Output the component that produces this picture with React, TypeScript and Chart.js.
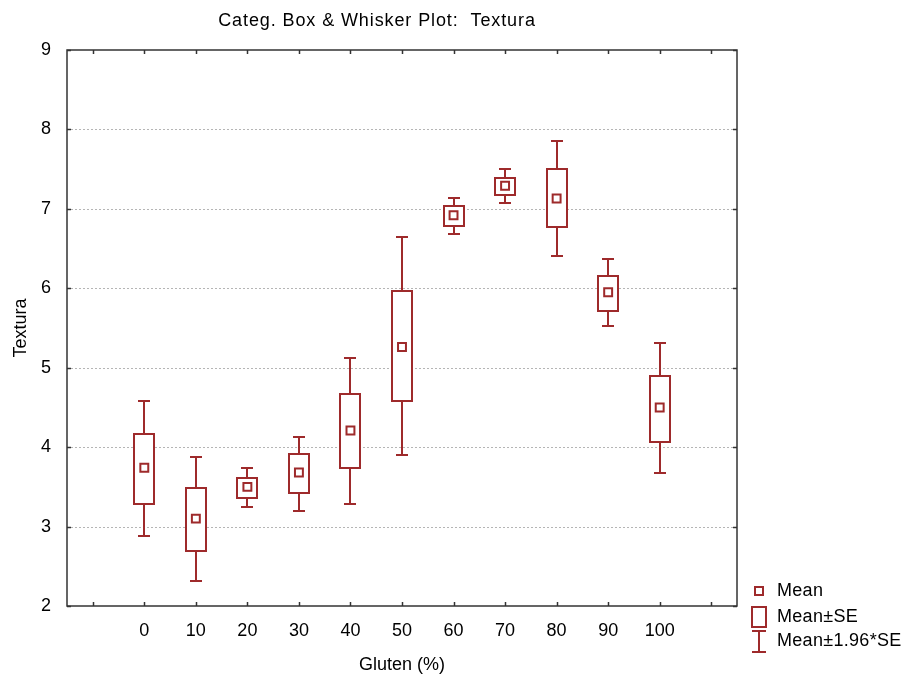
import React, { useEffect, useRef } from 'react';
import { Chart, registerables } from 'chart.js';

Chart.register(...registerables);

// ---- Data ----
const categories = [0, 10, 20, 30, 40, 50, 60, 70, 80, 90, 100];
const means = [3.74, 3.10, 3.50, 3.68, 4.21, 5.26, 6.92, 7.29, 7.13, 5.95, 4.50];
const seLow = [3.29, 2.69, 3.36, 3.42, 3.74, 4.58, 6.79, 7.18, 6.77, 5.72, 4.07];
const seHigh = [4.17, 3.49, 3.61, 3.91, 4.67, 5.97, 7.03, 7.39, 7.50, 6.16, 4.90];
const ciLow = [2.88, 2.32, 3.25, 3.19, 3.29, 3.90, 6.68, 7.07, 6.41, 5.52, 3.68];
const ciHigh = [4.58, 3.87, 3.74, 4.13, 5.12, 6.65, 7.14, 7.50, 7.85, 6.37, 5.31];
const xTickValues = [-10, 0, 10, 20, 30, 40, 50, 60, 70, 80, 90, 100, 110];
const yTickValues = [2, 3, 4, 5, 6, 7, 8, 9];

const TITLE = 'Categ. Box & Whisker Plot:  Textura';
const X_TITLE = 'Gluten (%)';
const Y_TITLE = 'Textura';
const LEGEND_LABELS = ['Mean', 'Mean\u00B1SE', 'Mean\u00B11.96*SE'];

const RED = '#9e2a2b';
const FONT = 'Arial, "Liberation Sans", sans-serif';
const BOX_HALF = 2; // data units
const CAP_HALF = 1.2; // data units

function line(ctx: CanvasRenderingContext2D, x1: number, y1: number, x2: number, y2: number) {
  ctx.beginPath();
  ctx.moveTo(x1, y1);
  ctx.lineTo(x2, y2);
  ctx.stroke();
}

const boxPlugin = {
  id: 'boxWhisker',
  beforeDatasetsDraw(chart: any) {
    const { ctx, chartArea: ca, scales } = chart;
    const x = scales.x;
    const y = scales.y;
    ctx.save();
    // dotted grid
    ctx.strokeStyle = '#b5b5b5';
    ctx.lineWidth = 1;
    ctx.setLineDash([2, 2]);
    yTickValues.forEach((v) => {
      if (v === y.min || v === y.max) return;
      const py = Math.round(y.getPixelForValue(v)) + 0.5;
      line(ctx, ca.left, py, ca.right, py);
    });
    ctx.setLineDash([]);
    // boxes & whiskers
    ctx.strokeStyle = RED;
    ctx.lineWidth = 2;
    categories.forEach((c, i) => {
      const px = Math.round(x.getPixelForValue(c));
      const bh = Math.round(x.getPixelForValue(c + BOX_HALF) - x.getPixelForValue(c));
      const ch = Math.round(x.getPixelForValue(c + CAP_HALF) - x.getPixelForValue(c));
      const yLo = Math.round(y.getPixelForValue(ciLow[i]));
      const yHi = Math.round(y.getPixelForValue(ciHigh[i]));
      const bLo = Math.round(y.getPixelForValue(seLow[i]));
      const bHi = Math.round(y.getPixelForValue(seHigh[i]));
      line(ctx, px, yHi, px, yLo);
      line(ctx, px - ch, yHi, px + ch, yHi);
      line(ctx, px - ch, yLo, px + ch, yLo);
      ctx.fillStyle = '#ffffff';
      ctx.fillRect(px - bh, bHi, 2 * bh, bLo - bHi);
      ctx.strokeRect(px - bh, bHi, 2 * bh, bLo - bHi);
    });
    ctx.restore();
  },
  afterDraw(chart: any) {
    const { ctx, chartArea: ca, scales } = chart;
    const x = scales.x;
    const y = scales.y;
    ctx.save();
    // frame
    ctx.strokeStyle = '#333333';
    ctx.lineWidth = 1.5;
    ctx.strokeRect(ca.left, ca.top, ca.right - ca.left, ca.bottom - ca.top);
    // inward ticks
    ctx.lineWidth = 1.5;
    const tl = 4;
    xTickValues.forEach((v) => {
      const px = Math.round(x.getPixelForValue(v)) + 0.5;
      line(ctx, px, ca.bottom, px, ca.bottom - tl);
      line(ctx, px, ca.top, px, ca.top + tl);
    });
    yTickValues.forEach((v) => {
      const py = Math.round(y.getPixelForValue(v)) + 0.5;
      line(ctx, ca.left, py, ca.left + tl, py);
      line(ctx, ca.right, py, ca.right - tl, py);
    });
    // title
    ctx.fillStyle = '#000';
    ctx.font = `18px ${FONT}`;
    ctx.textAlign = 'center';
    ctx.textBaseline = 'middle';
    (ctx as any).letterSpacing = '0.9px';
    ctx.fillText(TITLE, 377, 21);
    (ctx as any).letterSpacing = '0px';
    // legend
    const lx = ca.right + 22; // symbol center
    const tx = ca.right + 40;
    ctx.strokeStyle = RED;
    ctx.lineWidth = 2;
    ctx.strokeRect(lx - 4, 587, 8, 8);
    ctx.strokeRect(lx - 7, 607, 14, 20);
    line(ctx, lx, 631, lx, 652);
    line(ctx, lx - 7, 631, lx + 7, 631);
    line(ctx, lx - 7, 652, lx + 7, 652);
    ctx.fillStyle = '#000';
    ctx.textAlign = 'left';
    (ctx as any).letterSpacing = '0.3px';
    ctx.fillText(LEGEND_LABELS[0], tx, 591);
    ctx.fillText(LEGEND_LABELS[1], tx, 617);
    ctx.fillText(LEGEND_LABELS[2], tx, 641);
    (ctx as any).letterSpacing = '0px';
    ctx.restore();
  },
};

export default function App() {
  const ref = useRef<HTMLCanvasElement | null>(null);
  useEffect(() => {
    if (!ref.current) return;
    const chart = new Chart(ref.current, {
      type: 'scatter',
      data: {
        datasets: [
          {
            label: 'Mean',
            data: categories.map((c, i) => ({ x: c, y: means[i] })),
            pointStyle: 'rect',
            pointRadius: 5.6,
            pointHoverRadius: 5.6,
            borderWidth: 2,
            borderColor: RED,
            backgroundColor: '#ffffff',
            showLine: false,
          },
        ],
      },
      options: {
        animation: false,
        responsive: false,
        devicePixelRatio: 1,
        events: [],
        layout: { padding: { top: 50, right: 167, left: 0, bottom: 0 } },
        plugins: {
          legend: { display: false },
          tooltip: { enabled: false },
          title: { display: false },
        },
        scales: {
          x: {
            type: 'linear',
            position: 'bottom',
            min: -15,
            max: 115,
            afterBuildTicks: (s: any) => {
              s.ticks = xTickValues.map((v) => ({ value: v }));
            },
            afterFit: (s: any) => {
              s.height = 71;
            },
            grid: { display: false },
            border: { display: false },
            ticks: {
              autoSkip: false,
              maxRotation: 0,
              padding: 6,
              color: '#000',
              font: { size: 18, family: FONT },
              callback: (v: any) => (categories.includes(Number(v)) ? String(v) : ''),
            },
            title: {
              display: true,
              text: X_TITLE,
              color: '#000',
              font: { size: 18, family: FONT },
              padding: { top: 0, bottom: 1 },
            },
          },
          y: {
            type: 'linear',
            min: 2,
            max: 9,
            afterBuildTicks: (s: any) => {
              s.ticks = yTickValues.map((v) => ({ value: v }));
            },
            afterFit: (s: any) => {
              s.width = 67;
            },
            grid: { display: false },
            border: { display: false },
            ticks: {
              padding: 8,
              color: '#000',
              font: { size: 18, family: FONT },
            },
            title: {
              display: true,
              text: Y_TITLE,
              color: '#000',
              font: { size: 18, family: FONT },
              padding: { top: 10, bottom: 0 },
            },
          },
        },
      },
      plugins: [boxPlugin],
    } as any);
    return () => chart.destroy();
  }, []);
  return (
    <div style={{ position: 'absolute', left: 0, top: 0, width: 904, height: 677, background: '#fff' }}>
      <canvas ref={ref} width={904} height={677} style={{ display: 'block' }} />
    </div>
  );
}
